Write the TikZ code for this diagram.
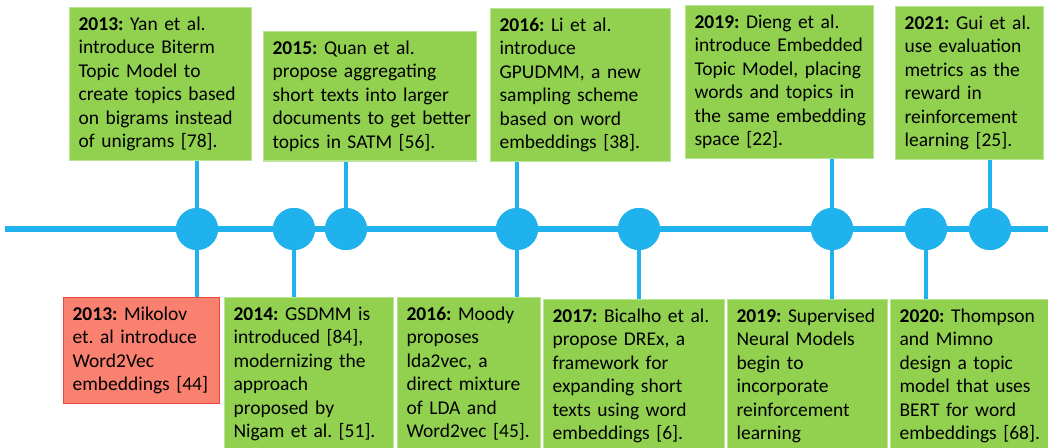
\documentclass[tikz,border=0pt]{standalone}
\usepackage{fontspec}
\setmainfont{Carlito}
\frenchspacing

\definecolor{lineblue}{RGB}{32,178,236}
\definecolor{boxgreen}{RGB}{146,208,80}
\definecolor{edgegreen}{RGB}{185,228,150}
\definecolor{boxred}{RGB}{250,128,112}
\definecolor{edgered}{RGB}{236,72,58}

% one line per row, so nothing gets broken or hyphenated
\newcommand{\evlines}[1]{\begin{tabular}{@{}l@{}}#1\end{tabular}}

\tikzset{
  event/.style={draw=edgegreen, fill=boxgreen, line width=0.6pt, anchor=north west,
    align=left, inner xsep=4.5pt, inner ysep=3pt, text width=#1,
    font=\fontsize{9.75}{11.75}\selectfont},
  redevent/.style={event=#1, fill=boxred, draw=edgered},
  dot/.style={circle, fill=lineblue, minimum size=21pt, inner sep=0pt},
  stem/.style={lineblue, line width=2pt},
}

\begin{document}
\begin{tikzpicture}[x=0.5pt, y=-0.5pt]

\useasboundingbox (0,0) rectangle (1048,448);
\clip (0,0) rectangle (1048,448);

% boxes above the line
\node[event=82pt] (Yan) at (69,7) {\evlines{\textbf{2013:} Yan et al.\\ introduce Biterm\\ Topic Model to\\ create topics based\\ on bigrams instead\\ of unigrams [78].}};
\node[event=97.5pt] (Quan) at (263,31) {\evlines{\textbf{2015:} Quan et al.\\ propose aggregating\\ short texts into larger\\ documents to get better\\ topics in SATM [56].}};
\node[event=81pt] (Li) at (490,8) {\evlines{\textbf{2016:} Li et al.\\ introduce\\ GPUDMM, a new\\ sampling scheme\\ based on word\\ embeddings [38].}};
\node[event=85pt] (Dieng) at (685,5) {\evlines{\textbf{2019:} Dieng et al.\\ introduce Embedded\\ Topic Model, placing\\ words and topics in\\ the same embedding\\ space [22].}};
\node[event=65pt] (Gui) at (895,6) {\evlines{\textbf{2021:} Gui et al.\\ use evaluation\\ metrics as the\\ reward in\\ reinforcement\\ learning [25].}};

% boxes below the line
\node[redevent=69pt] (Mikolov) at (63,297) {\evlines{\textbf{2013:} Mikolov\\ et. al introduce\\ Word2Vec\\ embeddings [44]}};
\node[event=75.5pt] (Gsdmm) at (224,297) {\evlines{\textbf{2014:} GSDMM is\\ introduced [84],\\ modernizing the\\ approach\\ proposed by\\ Nigam et al. [51].}};
\node[event=62.5pt] (Moody) at (397,297) {\evlines{\textbf{2016:} Moody\\ proposes\\ lda2vec, a\\ direct mixture\\ of LDA and\\ Word2vec [45].}};
\node[event=81.5pt] (Bicalho) at (543,299) {\evlines{\textbf{2017:} Bicalho et al.\\ propose DREx, a\\ framework for\\ expanding short\\ texts using word\\ embeddings [6].}};
\node[event=71pt] (Supervised) at (727,299) {\evlines{\textbf{2019:} Supervised\\ Neural Models\\ begin to\\ incorporate\\ reinforcement\\ learning}};
\node[event=71pt] (Thompson) at (890,299) {\evlines{\textbf{2020:} Thompson\\ and Mimno\\ design a topic\\ model that uses\\ BERT for word\\ embeddings [68].}};

% time line
\coordinate (Start) at (5,229);
\coordinate (End) at (1048,229);
\draw[lineblue, line width=3pt] (Start) -- (End);

\node[dot] (Dot1) at (197,229) {};
\node[dot] (Dot2) at (294,229) {};
\node[dot] (Dot3) at (346,229) {};
\node[dot] (Dot4) at (517,229) {};
\node[dot] (Dot5) at (639,229) {};
\node[dot] (Dot6) at (832,229) {};
\node[dot] (Dot7) at (926,229) {};
\node[dot] (Dot8) at (990,229) {};

\draw[stem] (Dot1.center) -- (Dot1 |- Yan.south);
\draw[stem] (Dot3.center) -- (Dot3 |- Quan.south);
\draw[stem] (Dot4.center) -- (Dot4 |- Li.south);
\draw[stem] (Dot6.center) -- (Dot6 |- Dieng.south);
\draw[stem] (Dot8.center) -- (Dot8 |- Gui.south);

\draw[stem] (Dot1.center) -- (Dot1 |- Mikolov.north);
\draw[stem] (Dot2.center) -- (Dot2 |- Gsdmm.north);
\draw[stem] (Dot4.center) -- (Dot4 |- Moody.north);
\draw[stem] (Dot5.center) -- (Dot5 |- Bicalho.north);
\draw[stem] (Dot6.center) -- (Dot6 |- Supervised.north);
\draw[stem] (Dot7.center) -- (Dot7 |- Thompson.north);

% dots again on top of the stems
\foreach \d in {1,...,8}
  \node[dot] at (Dot\d) {};

\end{tikzpicture}
\end{document}
